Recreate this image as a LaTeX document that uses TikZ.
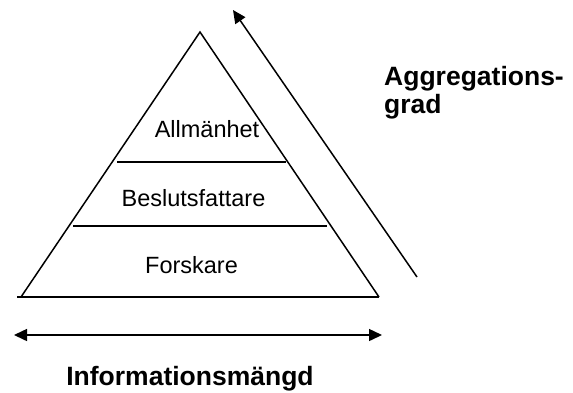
\documentclass[tikz,border=0pt]{standalone}
\usepackage{fontspec}
\setmainfont{Liberation Sans}
\usetikzlibrary{arrows.meta}
\begin{document}
\begin{tikzpicture}[x=1pt,y=-1pt,
  ln/.style={line width=1.5pt},
  arr/.style={line width=1.5pt,-{Triangle[length=13pt,width=12pt]}},
  darr/.style={line width=1.5pt,{Triangle[length=13pt,width=12pt]}-{Triangle[length=13pt,width=12pt]}},
  lab/.style={font=\fontsize{23.5}{27}\selectfont,inner sep=0pt},
  blab/.style={font=\bfseries\fontsize{26.5}{28}\selectfont,inner sep=0pt,align=left}]
\useasboundingbox (0,0) rectangle (573,392);
\coordinate (apex) at (200,32);
\coordinate (bl) at (21,297);
\coordinate (br) at (379,297);
\coordinate (b0) at (17,297);
\draw[ln,line join=miter] (bl) -- (apex) -- (br);
\draw[ln] (b0) -- (br);
\coordinate (l1a) at (117,162); \coordinate (l1b) at (286,162);
\coordinate (l2a) at (73,226); \coordinate (l2b) at (327,226);
\draw[ln] (l1a) -- (l1b);
\draw[ln] (l2a) -- (l2b);
\node[lab] (allm) at (207,129) {Allmänhet};
\node[lab] (besl) at (193.5,198) {Beslutsfattare};
\node[lab] (forsk) at (191.5,265) {Forskare};
\coordinate (at) at (417,277);
\coordinate (ah) at (233,10);
\draw[arr] (at) -- (ah);
\coordinate (hl) at (14,335);
\coordinate (hr) at (382,335);
\draw[darr] (hl) -- (hr);
\node[blab,anchor=base] (info) at (190,385) {Informationsmängd};
\node[blab,anchor=base west] (aggr) at (384,113) {Aggregations-\\grad};
\end{tikzpicture}
\end{document}
